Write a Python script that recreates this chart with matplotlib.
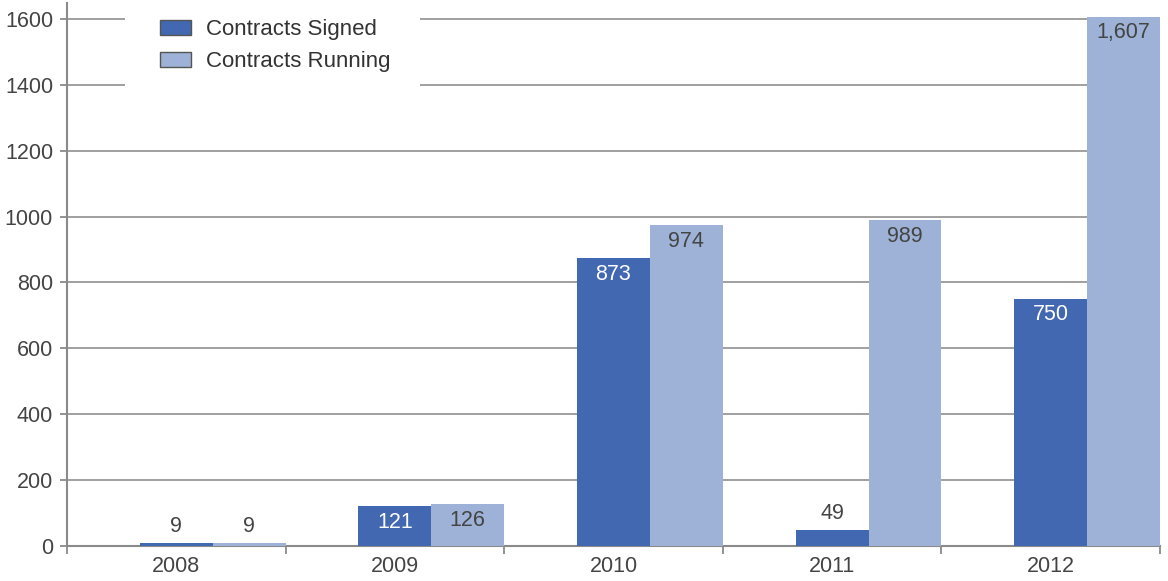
import matplotlib
matplotlib.use("Agg")
import matplotlib.pyplot as plt
import numpy as np
from matplotlib.patches import Rectangle

years = ["2008", "2009", "2010", "2011", "2012"]
signed = [9, 121, 873, 49, 750]
running = [9, 126, 974, 989, 1607]
signed_labels = ["9", "121", "873", "49", "750"]
running_labels = ["9", "126", "974", "989", "1,607"]
yticks = [0, 200, 400, 600, 800, 1000, 1200, 1400, 1600]

plt.rcParams['font.family'] = ['Liberation Sans', 'DejaVu Sans']

C_SIGNED = "#4268B1"
C_RUN = "#9DB2D6"
AX = "#8a8a8a"
TXT = "#444444"
FS = 15.5

fig = plt.figure(figsize=(11.68, 5.81), dpi=100)
ax = fig.add_axes([67/1168, 35/581, 1093/1168, 543/581])

x = np.arange(len(years))
w = 1/3
b1 = ax.bar(x, signed, w, color=C_SIGNED, zorder=3, label="Contracts Signed")
b2 = ax.bar(x + w, running, w, color=C_RUN, zorder=3, label="Contracts Running")

ax.set_xlim(-0.5, len(years) - 0.5)
ax.set_ylim(0, 1648)
ax.set_yticks(yticks)
ax.set_yticklabels([str(v) for v in yticks])
ax.yaxis.grid(True, color="#999999", linewidth=1.3, zorder=0)
ax.set_axisbelow(True)

ax.set_xticks(x)
ax.set_xticklabels(years)
ax.set_xticks(np.arange(len(years) + 1) - 0.5, minor=True)
ax.tick_params(axis='x', which='major', length=0, labelsize=FS, colors=TXT, pad=7)
ax.tick_params(axis='x', which='minor', length=6, width=1.3, color=AX)
ax.tick_params(axis='y', length=5, width=1.3, color=AX, labelsize=FS, labelcolor=TXT, pad=5)

for s in ["top", "right"]:
    ax.spines[s].set_visible(False)
for s in ["left", "bottom"]:
    ax.spines[s].set_color(AX)
    ax.spines[s].set_linewidth(1.5)

def label(bars, vals, labs, inside_color):
    for b, v, t in zip(bars, vals, labs):
        cx = b.get_x() + b.get_width()/2
        if v > 100:
            ax.annotate(t, (cx, v), xytext=(0, -4), textcoords="offset points",
                        ha="center", va="top", fontsize=FS, color=inside_color, zorder=5)
        else:
            ax.annotate(t, (cx, v), xytext=(0, 4), textcoords="offset points",
                        ha="center", va="bottom", fontsize=FS, color=TXT, zorder=5)

label(b1, signed, signed_labels, "white")
label(b2, running, running_labels, TXT)

# white legend box covering gridlines
ax.add_patch(Rectangle((58/1093, (546-86)/543), (420-125)/1093, 86/543,
                       transform=ax.transAxes, facecolor="white", edgecolor="none", zorder=2))
leg = ax.legend(loc="upper left", bbox_to_anchor=(93/1093, 1 - 16/543), frameon=False,
                fontsize=16, handlelength=1.4, handleheight=0.65, handletextpad=0.65,
                labelspacing=0.5, borderpad=0, borderaxespad=0)
for h in leg.legend_handles:
    h.set_edgecolor("#555555")
    h.set_linewidth(1)
for t in leg.get_texts():
    t.set_color("#333333")
leg.set_zorder(6)

fig.savefig("out.png", dpi=100)
